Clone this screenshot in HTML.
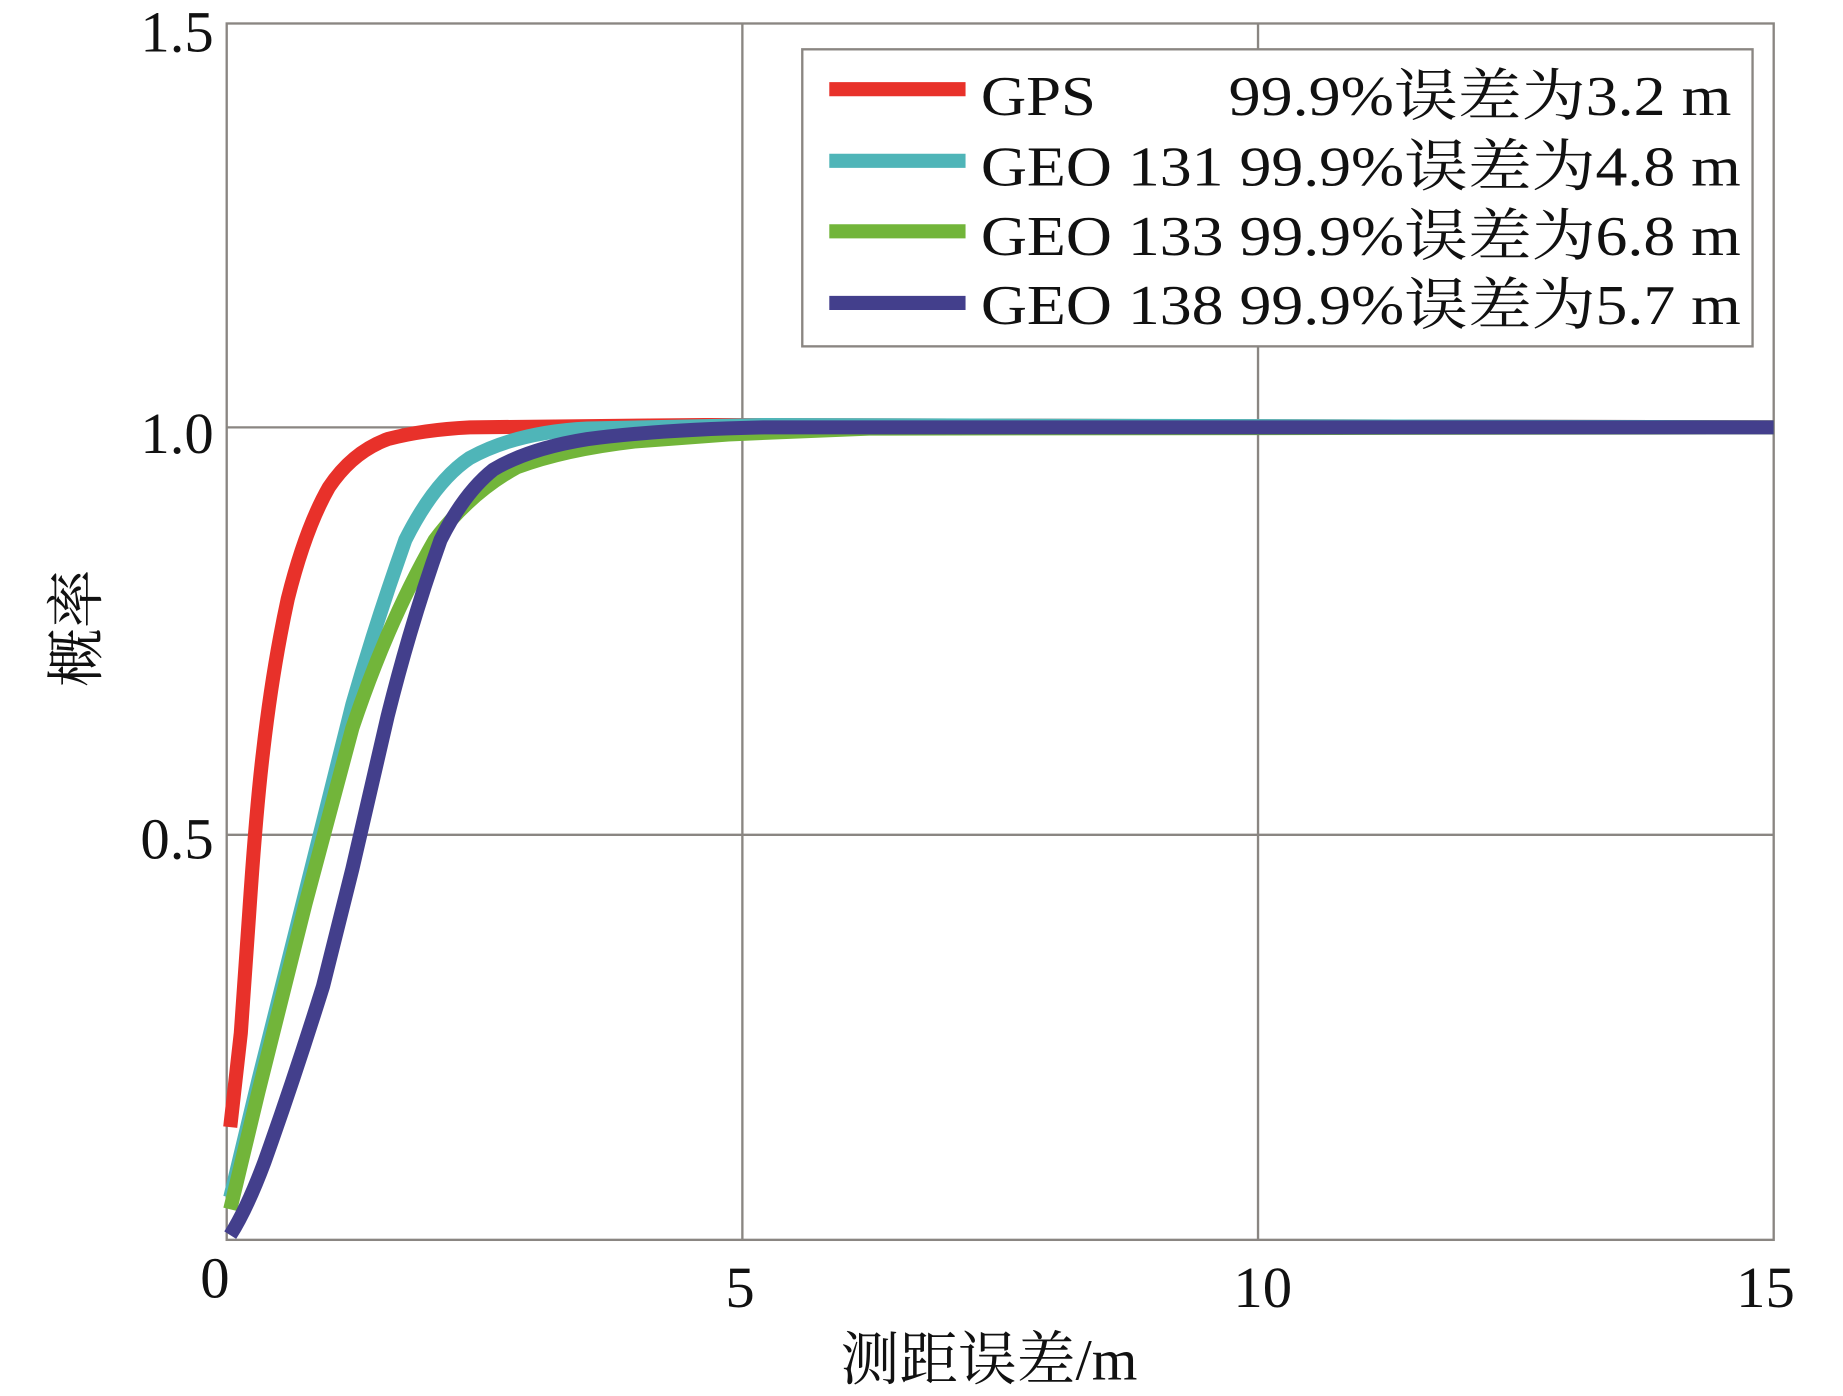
<!DOCTYPE html>
<html><head><meta charset="utf-8"><style>html,body{margin:0;padding:0;background:#fff;}svg{display:block}</style></head>
<body>
<svg width="1843" height="1396" viewBox="0 0 1569 1189" preserveAspectRatio="none" xmlns="http://www.w3.org/2000/svg">
<rect width="1569" height="1189" fill="#fff"/>
<g stroke="#8a8682" stroke-width="2" fill="none">
<rect x="193" y="20" width="1317" height="1036"/>
<line x1="632" y1="20" x2="632" y2="1056"/>
<line x1="1071" y1="20" x2="1071" y2="1056"/>
<line x1="193" y1="364" x2="1510" y2="364"/>
<line x1="193" y1="711" x2="1510" y2="711"/>
</g>
<g fill="none" stroke-width="12" stroke-linejoin="round" stroke-linecap="butt">
<path stroke="#e8312a" d="M196,960 L205,880 L212,780 Q218,690 224,640 Q232,570 245,510 Q260,450 280,415 Q300,385 330,374 Q360,366 400,364 L600,362 L1510,364"/>
<path stroke="#4fb5b8" d="M196,1020 L220,920 L260,760 L300,600 Q320,530 345,460 Q370,410 400,390 Q440,368 500,365 L650,362 L1510,364"/>
<path stroke="#72b53a" d="M196,1030 L220,930 L260,770 L300,620 Q330,530 370,460 Q400,420 440,398 Q480,383 540,376 L620,370 L740,365 L1510,364"/>
<path stroke="#433f8c" d="M196,1052 Q210,1030 225,990 Q250,920 275,840 L300,740 L330,610 Q350,530 375,460 Q395,420 420,400 Q450,382 500,374 Q560,366 650,364 L1510,364"/>
</g>
<rect x="683" y="42" width="809" height="253" fill="#fff" stroke="#8a8682" stroke-width="2"/>
<g stroke-width="12">
<line x1="706" y1="76" x2="822" y2="76" stroke="#e8312a"/>
<line x1="706" y1="137" x2="822" y2="137" stroke="#4fb5b8"/>
<line x1="706" y1="197" x2="822" y2="197" stroke="#72b53a"/>
<line x1="706" y1="258" x2="822" y2="258" stroke="#433f8c"/>
</g>
<g font-family="'Liberation Serif','Noto Serif CJK SC',serif" font-size="48" fill="#111">
<text x="835" y="98" textLength="98" lengthAdjust="spacingAndGlyphs">GPS</text>
<text x="1046" y="98" textLength="428" lengthAdjust="spacingAndGlyphs">99.9%误差为3.2 m</text>
<text x="835" y="158" textLength="647" lengthAdjust="spacingAndGlyphs">GEO 131 99.9%误差为4.8 m</text>
<text x="835" y="217" textLength="647" lengthAdjust="spacingAndGlyphs">GEO 133 99.9%误差为6.8 m</text>
<text x="835" y="276" textLength="647" lengthAdjust="spacingAndGlyphs">GEO 138 99.9%误差为5.7 m</text>
<g text-anchor="end" font-size="50">
<text x="182" y="44">1.5</text>
<text x="182" y="386">1.0</text>
<text x="182" y="731">0.5</text>
</g>
<g text-anchor="middle" font-size="50">
<text x="183" y="1105">0</text>
<text x="630" y="1113">5</text>
<text x="1075" y="1113">10</text>
<text x="1503" y="1113">15</text>
<text x="842" y="1175">测距误差/m</text>
<text transform="translate(82,535) rotate(-90)">概率</text>
</g>
</g>
</svg>
</body></html>
